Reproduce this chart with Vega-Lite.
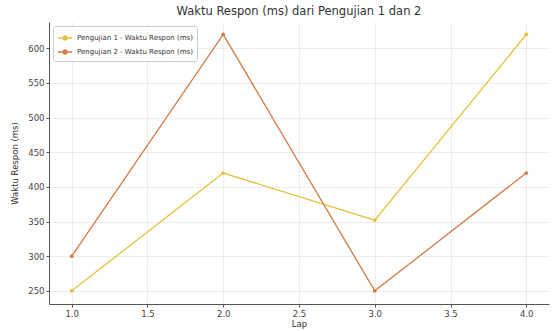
{
  "$schema": "https://vega.github.io/schema/vega-lite/v6.json",
  "width": 500,
  "height": 282,
  "autosize": {"type": "none"},
  "padding": {"left": 49, "top": 22, "right": 5, "bottom": 27},
  "background": "white",
  "title": {
    "text": "Waktu Respon (ms) dari Pengujian 1 dan 2",
    "fontSize": 11.5,
    "fontWeight": "normal",
    "font": "DejaVu Sans",
    "color": "#333333",
    "anchor": "middle",
    "offset": 5
  },
  "data": {
    "values": [
      {"Lap": 1, "Waktu": 250, "Series": "Pengujian 1 - Waktu Respon (ms)"},
      {"Lap": 2, "Waktu": 420, "Series": "Pengujian 1 - Waktu Respon (ms)"},
      {"Lap": 3, "Waktu": 352, "Series": "Pengujian 1 - Waktu Respon (ms)"},
      {"Lap": 4, "Waktu": 620, "Series": "Pengujian 1 - Waktu Respon (ms)"},
      {"Lap": 1, "Waktu": 300, "Series": "Pengujian 2 - Waktu Respon (ms)"},
      {"Lap": 2, "Waktu": 620, "Series": "Pengujian 2 - Waktu Respon (ms)"},
      {"Lap": 3, "Waktu": 250, "Series": "Pengujian 2 - Waktu Respon (ms)"},
      {"Lap": 4, "Waktu": 420, "Series": "Pengujian 2 - Waktu Respon (ms)"}
    ]
  },
  "mark": {"type": "line", "strokeWidth": 1.3, "point": {"size": 14, "filled": true}},
  "encoding": {
    "x": {
      "field": "Lap", "type": "quantitative", "title": "Lap",
      "scale": {"domain": [0.85, 4.15], "nice": false, "zero": false},
      "axis": {"values": [1, 1.5, 2, 2.5, 3, 3.5, 4], "format": ".1f"}
    },
    "y": {
      "field": "Waktu", "type": "quantitative", "title": "Waktu Respon (ms)",
      "scale": {"domain": [231, 638], "nice": false, "zero": false},
      "axis": {"values": [250, 300, 350, 400, 450, 500, 550, 600]}
    },
    "color": {
      "field": "Series", "type": "nominal", "title": null,
      "scale": {"range": ["#E6C13E", "#D47A45"]},
      "legend": {
        "orient": "top-left",
        "offset": 4,
        "symbolType": "M-1,0L-0.3,0M0.3,0L1,0M-0.3,0A0.3,0.3 0 1 1 0.3,0A0.3,0.3 0 1 1 -0.3,0",
        "symbolSize": 200,
        "symbolStrokeWidth": 1.3,
        "labelFontSize": 7,
        "labelFont": "DejaVu Sans",
        "labelColor": "#333333",
        "fillColor": "white",
        "strokeColor": "#cccccc",
        "padding": 4,
        "rowPadding": 1,
        "cornerRadius": 2
      }
    }
  },
  "config": {
    "view": {"stroke": null},
    "axis": {
      "labelFont": "DejaVu Sans",
      "titleFont": "DejaVu Sans",
      "labelFontSize": 8.5,
      "titleFontSize": 8.5,
      "titleFontWeight": "normal",
      "labelColor": "#444444",
      "titleColor": "#333333",
      "domainColor": "#555555",
      "tickColor": "#555555",
      "tickSize": 3,
      "gridColor": "#e8e8e8",
      "gridWidth": 0.8
    },
    "axisX": {"titlePadding": 2},
    "axisY": {"titlePadding": 8}
  }
}
